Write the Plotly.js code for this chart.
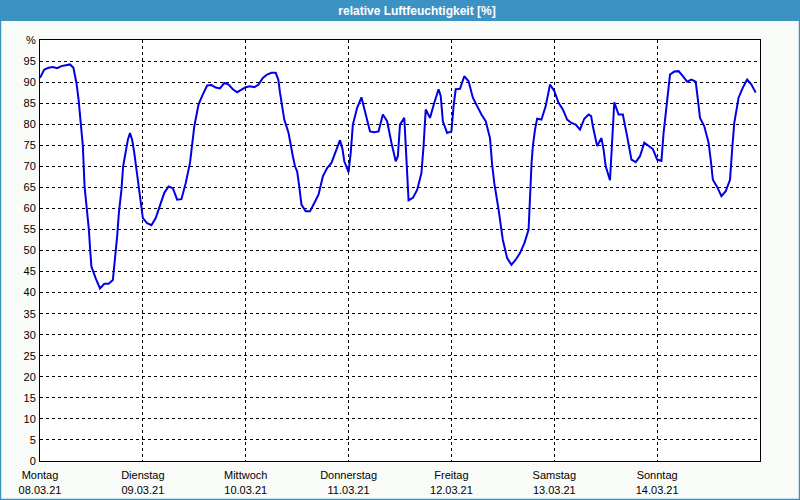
<!DOCTYPE html>
<html>
<head>
<meta charset="utf-8">
<script src="https://cdn.plot.ly/plotly-3.0.1.min.js"></script>
<style>
  html, body { margin: 0; padding: 0; background: #ffffff; }
  #chart { width: 800px; height: 500px; }
</style>
</head>
<body>
<div id="chart"></div>
<script>
// Hours since Montag 08.03.21 00:00
const hours = [0,1,2,3,4,5,6,7,7.8,8.5,9,9.5,10,10.4,11,11.4,11.7,12,13,14,15,16,17,17.5,18,18.4,19,19.4,20,20.5,21,21.5,22,22.5,23,23.5,
  24,25,26,27,28,29,30,31,32,33,34,35,36,37,38,39,40,41,42,43,44,45,46,47,
  48,49,50,51,52,53,54,55,55.6,56,56.5,57,58,58.5,59,59.5,60,60.5,61,62,63,64,65,66,67,68,69,70,70.6,71,
  72,72.5,73,74,75,76,77,78,79,80,81,82,83,83.5,84,85,85.7,86,87,88,89,89.5,90,91,92,93,93.5,94,95,
  96,96.5,97,98,99,100,101,102,103,104,105,105.5,106,107,108,109,110,111,112,113,114,114.7,115,115.5,116,117,118,119,
  120,121,122,123,124,125,126,127,128,128.6,129,130,130.5,131,131.5,132,133,134,135,136,137,138,139,140,141,142,143,
  144,145,145.5,146,146.5,147,148,149,150,151,152,153,153.5,154,155,156,156.5,157,158,159,160,161,161.5,162,163,164,165,166,167];
// relative humidity [%]
const humidity = [91.0,93.0,93.4,93.6,93.3,93.8,94.0,94.2,93.4,89.8,85.9,81.0,74.8,65.2,59.7,55.0,50.2,46.2,43.4,41.0,42.1,42.1,43.0,47.8,53.3,58.9,64.4,70.0,73.2,76.3,77.9,76.3,73.2,69.2,65.2,61.3,
  57.7,56.5,56.0,57.7,60.5,63.7,65.2,64.8,62.1,62.2,66.0,70.8,79.5,84.7,87.1,89.2,89.3,88.7,88.5,89.8,89.4,88.3,87.6,88.3,
  88.8,89.0,88.8,89.4,91.0,91.8,92.2,92.2,90.6,87.5,84.3,81.1,77.9,74.8,72.4,70.0,68.8,65.2,60.9,59.3,59.3,61.3,63.3,67.6,69.6,70.8,73.6,76.2,74.0,71.2,
  68.6,73.2,79.9,83.9,86.4,82.3,78.3,78.1,78.3,82.3,80.7,75.6,71.2,72.4,79.9,81.5,66.0,61.9,62.5,64.4,68.4,74.8,83.5,81.5,85.1,88.3,86.7,80.7,77.9,
  78.3,84.3,88.3,88.4,91.4,90.2,86.3,84.3,82.3,80.7,76.7,70.4,66.0,59.7,52.5,48.2,46.6,47.8,49.4,51.7,54.9,70.8,74.8,78.7,81.3,81.1,84.3,89.4,
  87.9,85.1,83.5,81.1,80.3,79.9,78.7,81.3,82.3,81.9,79.5,74.8,75.6,76.7,74.0,70.0,66.7,85.2,82.3,82.3,77.1,71.6,71.0,72.4,75.6,74.9,74.1,
  71.6,71.3,77.9,82.7,87.5,91.8,92.5,92.6,91.4,90.1,90.6,90.1,85.9,81.5,79.5,75.6,71.6,66.8,65.1,62.9,64.1,66.8,74.0,80.3,86.3,88.7,90.6,89.4,87.5];

const dayDates = ['2021-03-08','2021-03-09','2021-03-10','2021-03-11','2021-03-12','2021-03-13','2021-03-14'];
const dayNames = ['Montag','Dienstag','Mittwoch','Donnerstag','Freitag','Samstag','Sonntag'];
const dayLabels = ['08.03.21','09.03.21','10.03.21','11.03.21','12.03.21','13.03.21','14.03.21'];
const yTickVals = [0,5,10,15,20,25,30,35,40,45,50,55,60,65,70,75,80,85,90,95,100];
const yTickText = ['0','5','10','15','20','25','30','35','40','45','50','55','60','65','70','75','80','85','90','95','%'];

function pad(n){ return (n<10?'0':'') + n; }
function hourToDate(h){
  const totalMin = Math.round(h*60);
  const d = Math.floor(totalMin/1440);
  const rem = totalMin - d*1440;
  return '2021-03-' + pad(8+d) + ' ' + pad(Math.floor(rem/60)) + ':' + pad(rem%60);
}
const xDates = hours.map(hourToDate);
const xTickText = dayNames.map((n,i)=> n + '<br>' + dayLabels[i]);

const frameBlue = '#3d92c4';
const font = {family: 'Liberation Sans, Arial, sans-serif', size: 11, color: '#000000'};

// paper coordinate helpers (plot area 40..760 x, 40..461 y)
const W = 800, H = 500, L = 40, R = 40, T = 40, B = 39;
const pw = W-L-R, ph = H-T-B;
const px = x => (x-L)/pw;
const py = y => (H-B-y)/ph;

const trace = {
  x: xDates, y: humidity, type: 'scatter', mode: 'lines',
  line: {color: '#0000e6', width: 2}, hoverinfo: 'x+y'
};

const layout = {
  width: W, height: H,
  margin: {l: L, r: R, t: T, b: B, pad: 0},
  paper_bgcolor: '#f9fbf9',
  plot_bgcolor: '#ffffff',
  font: font,
  showlegend: false,
  title: {
    text: 'relative Luftfeuchtigkeit [%]',
    font: {family: 'Liberation Sans, Arial, sans-serif', size: 12, color: '#ffffff', weight: 'bold'},
    x: 417/W, xref: 'container', xanchor: 'center',
    y: 1 - 10.5/H, yref: 'container', yanchor: 'middle'
  },
  xaxis: {
    type: 'date',
    range: ['2021-03-08 00:00', '2021-03-15 00:00'],
    tickmode: 'array', tickvals: dayDates, ticktext: xTickText,
    showgrid: true, gridcolor: '#000000', gridwidth: 1, griddash: '3px,3px',
    showline: true, linecolor: '#000000', linewidth: 1, mirror: true,
    ticks: '', ticklabelstandoff: 4, zeroline: false, tickfont: font, fixedrange: true
  },
  yaxis: {
    range: [0, 100],
    tickmode: 'array', tickvals: yTickVals, ticktext: yTickText,
    showgrid: true, gridcolor: '#000000', gridwidth: 1, griddash: '3px,3px',
    showline: true, linecolor: '#000000', linewidth: 1, mirror: true,
    ticks: '', ticklabelstandoff: 1, zeroline: false, tickfont: font, fixedrange: true
  },
  shapes: [
    {type: 'rect', xref: 'paper', yref: 'paper', layer: 'below',
     x0: px(0), x1: px(W), y0: py(21), y1: py(0),
     fillcolor: frameBlue, line: {width: 0}},
    {type: 'rect', xref: 'paper', yref: 'paper', layer: 'above',
     x0: px(0.5), x1: px(W-0.5), y0: py(H-0.5), y1: py(0),
     fillcolor: 'rgba(0,0,0,0)', line: {color: frameBlue, width: 1.5}}
  ]
};

Plotly.newPlot('chart', [trace], layout, {displayModeBar: false, staticPlot: true});
</script>
</body>
</html>
